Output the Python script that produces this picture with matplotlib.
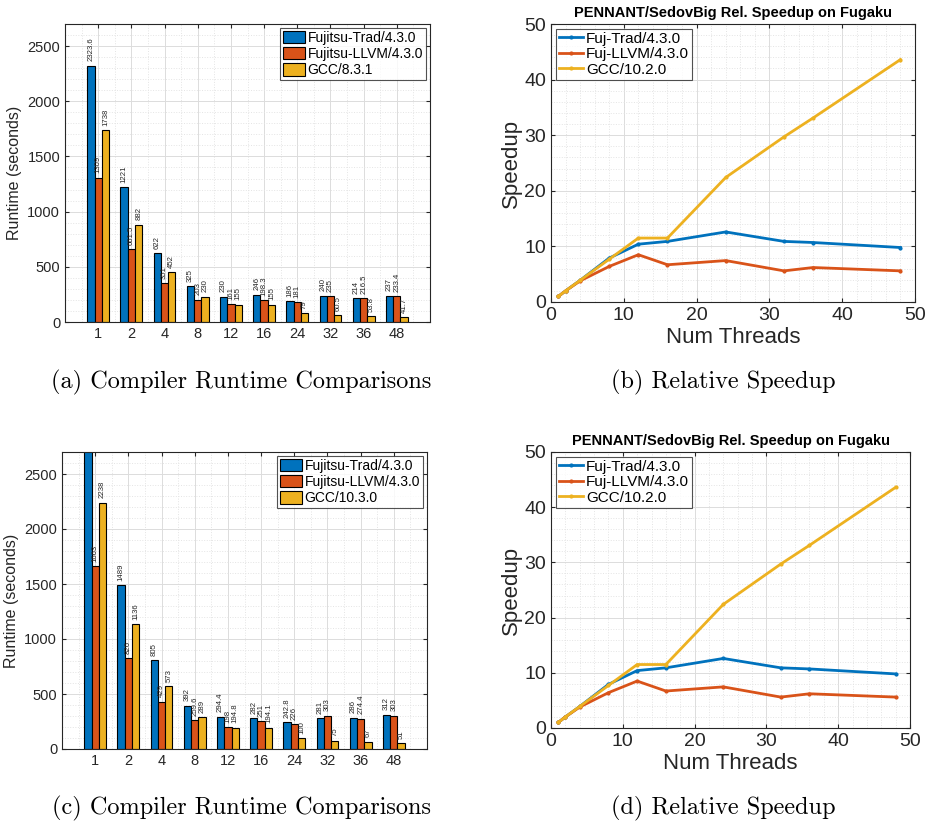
import matplotlib
matplotlib.use('Agg')
from matplotlib import pyplot as plt
from matplotlib.ticker import MultipleLocator
import numpy as np

plt.rcParams['font.family'] = ['Liberation Sans', 'DejaVu Sans']

# data
threads = ['1', '2', '4', '8', '12', '16', '24', '32', '36', '48']
trad_a = [2323.6, 1221, 622, 325, 230, 246, 186, 240, 214, 237]
llvm_a = [1309, 661.5, 351, 203, 161, 198.3, 181, 235, 216.5, 233.4]
gcc_a = [1738, 882, 452, 230, 155, 155, 79, 60.5, 53.8, 41.7]
trad_c = [3050, 1489, 805, 392, 294.4, 282, 242.8, 281, 286, 312]
llvm_c = [1663, 826, 429, 259.6, 198, 251, 226, 303, 274.4, 303]
gcc_c = [2238, 1136, 573, 289, 194.8, 194.1, 100, 75, 67, 51]

nthreads = [1, 2, 4, 8, 12, 16, 24, 32, 36, 48]
sp_trad = [1, 2, 3.9, 7.9, 10.4, 10.9, 12.6, 10.9, 10.7, 9.8]
sp_llvm = [1, 2, 3.8, 6.4, 8.5, 6.7, 7.45, 5.6, 6.2, 5.6]
sp_gcc = [1, 2, 3.9, 7.7, 11.5, 11.5, 22.4, 29.7, 33.1, 43.6]

blue = '#0072BD'
red = '#D95319'
yel = '#EDB120'
dark = '#262626'

W, H = 927, 827
fig = plt.figure(figsize=(W / 100, H / 100), dpi=100)


def box(l, t, r, b):
    return [l / W, 1 - b / H, (r - l) / W, (b - t) / H]


def style(ax, fs):
    for s in ax.spines.values():
        s.set_color(dark)
        s.set_linewidth(0.8)
    ax.tick_params(direction='in', which='both', top=True, right=True,
                   colors=dark, labelsize=fs, length=3)
    ax.tick_params(which='minor', length=0)
    ax.grid(True, which='major', color='#dcdcdc', linewidth=0.7)
    ax.grid(True, which='minor', color='#e4e4e4', linestyle=':', linewidth=0.7)
    ax.set_axisbelow(True)


def bar_panel(rect, trad, llvm, gcc, gcc_name):
    ax = fig.add_axes(rect)
    x = np.arange(1, len(threads) + 1)
    w = 0.22
    ymax = 2700
    series = [(trad, blue, 'Fujitsu-Trad/4.3.0', -w),
              (llvm, red, 'Fujitsu-LLVM/4.3.0', 0),
              (gcc, yel, gcc_name, w)]
    for vals, c, name, off in series:
        ax.bar(x + off, vals, w, color=c, edgecolor='black', linewidth=0.8, label=name)
        for xi, v in zip(x, vals):
            if v > ymax:  # label is off the top of the axes
                continue
            ax.text(xi + off, v + 40, '{:g}'.format(v), rotation=90, ha='center',
                    va='bottom', fontsize=5.6, color=dark, clip_on=True)
    ax.set_xlim(0, 11)
    ax.set_ylim(0, ymax)
    ax.set_xticks(x)
    ax.set_xticklabels(threads)
    ax.yaxis.set_major_locator(MultipleLocator(500))
    ax.yaxis.set_minor_locator(MultipleLocator(100))
    ax.xaxis.set_minor_locator(MultipleLocator(0.5))
    style(ax, 10.5)
    ax.set_ylabel('Runtime (seconds)', fontsize=11.5, color=dark)
    leg = ax.legend(loc='upper right', fontsize=10, frameon=True, fancybox=False,
                    handlelength=1.6, handleheight=1.0, handletextpad=0.2,
                    borderpad=0.2, labelspacing=0.15, borderaxespad=0.3)
    leg.get_frame().set_edgecolor(dark)
    leg.get_frame().set_linewidth(0.8)
    return ax


def speed_panel(rect):
    ax = fig.add_axes(rect)
    ax.plot(nthreads, sp_trad, color=blue, lw=2, marker='.', ms=4, label='Fuj-Trad/4.3.0')
    ax.plot(nthreads, sp_llvm, color=red, lw=2, marker='.', ms=4, label='Fuj-LLVM/4.3.0')
    ax.plot(nthreads, sp_gcc, color=yel, lw=2, marker='.', ms=4, label='GCC/10.2.0')
    ax.set_xlim(0, 50)
    ax.set_ylim(0, 50)
    ax.xaxis.set_major_locator(MultipleLocator(10))
    ax.yaxis.set_major_locator(MultipleLocator(10))
    ax.xaxis.set_minor_locator(MultipleLocator(2))
    ax.yaxis.set_minor_locator(MultipleLocator(2))
    style(ax, 14)
    ax.set_xlabel('Num Threads', fontsize=16, color=dark, labelpad=2)
    ax.set_ylabel('Speedup', fontsize=16, color=dark, labelpad=2)
    ax.set_title('PENNANT/SedovBig Rel. Speedup on Fugaku', fontsize=10.5,
                 fontweight='bold', pad=5)
    leg = ax.legend(loc='upper left', fontsize=11, frameon=True, fancybox=False,
                    handlelength=1.6, handletextpad=0.2, borderpad=0.2,
                    labelspacing=0.1, borderaxespad=0.3)
    leg.get_frame().set_edgecolor(dark)
    leg.get_frame().set_linewidth(0.8)
    return ax


bar_panel(box(65, 24, 430, 322), trad_a, llvm_a, gcc_a, 'GCC/8.3.1')
speed_panel(box(551, 24, 915, 302))
bar_panel(box(62, 452, 427, 749), trad_c, llvm_c, gcc_c, 'GCC/10.3.0')
speed_panel(box(551, 452, 910, 728))

cap = dict(fontsize=17.5, family='cmr10', ha='center', va='center')
fig.text(241 / W, 1 - 382 / H, '(a) Compiler Runtime Comparisons', **cap)
fig.text(723 / W, 1 - 382 / H, '(b) Relative Speedup', **cap)
fig.text(241 / W, 1 - 808 / H, '(c) Compiler Runtime Comparisons', **cap)
fig.text(723 / W, 1 - 808 / H, '(d) Relative Speedup', **cap)

plt.savefig('out.png', dpi=100)
